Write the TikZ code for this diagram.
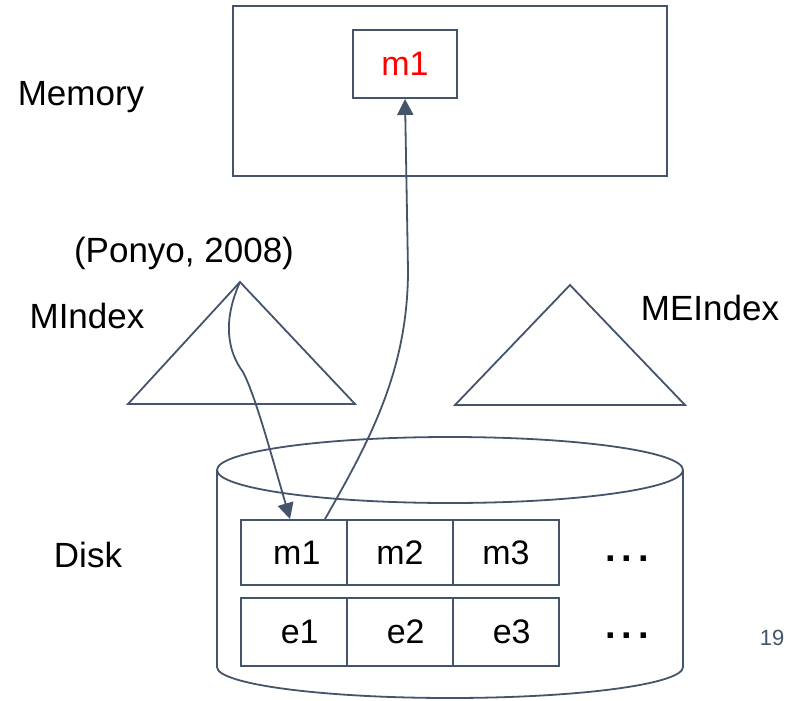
\documentclass[tikz,border=0pt]{standalone}
\usepackage{fontspec}
\setmainfont{Liberation Sans}
\usetikzlibrary{arrows.meta}
\definecolor{ln}{HTML}{44546A}
\begin{document}
\begin{tikzpicture}[x=1pt,y=-1pt,
  lbl/.style={anchor=base,font=\fontsize{35}{40}\selectfont},
  cell/.style={draw=ln,line width=1.9pt,minimum width=106pt,inner sep=0pt,font=\fontsize{34}{38}\selectfont},
  box/.style={draw=ln,line width=1.9pt,inner sep=0pt},
  shp/.style={draw=ln,line width=1.8pt},
  conn/.style={draw=ln,line width=1.8pt},
  arr/.style={conn,-{Triangle[length=16pt,width=16pt]}},
  dots/.style={anchor=base,font=\fontsize{38}{40}\selectfont\bfseries}]
\useasboundingbox (0,0) rectangle (790,701);
% Memory
\node[box,minimum width=434pt,minimum height=170pt] (mem) at (450,91) {};
\node[box,minimum width=104pt,minimum height=68pt,text=red,font=\fontsize{34}{38}\selectfont] (mm1) at (405,64) {m1};
\node[lbl] (memlbl) at (81,105) {Memory};
% indexes
\coordinate (apexA) at (240,282);
\coordinate (apexB) at (570,285);
\draw[shp] (apexA) -- (355,404) -- (128,404) -- cycle;
\draw[shp] (apexB) -- (685,405) -- (455,405) -- cycle;
\node[lbl] (ponyo) at (184,262) {(Ponyo, 2008)};
\node[lbl] (mindex) at (87,328) {MIndex};
\node[lbl] (meindex) at (710,320) {MEIndex};
% disk
\draw[shp] (450,470) ellipse [x radius=233, y radius=33];
\draw[shp] (217,470) -- (217,667) arc[start angle=180,end angle=0,x radius=233,y radius=31] -- (683,470);
\node[lbl] (disklbl) at (88,567) {Disk};
\node[cell,minimum height=65pt] (m1c) at (294,552.5) {\,m1};
\node[cell,minimum height=65pt] (m2c) at (400,552.5) {\raisebox{-3pt}{m2}};
\node[cell,minimum height=65pt] (m3c) at (506,552.5) {m3};
\node[cell,minimum height=68pt] (e1c) at (294,632) {\,\,e1};
\node[cell,minimum height=68pt] (e2c) at (400,632) {\,\,e2};
\node[cell,minimum height=68pt] (e3c) at (506,632) {\,\,e3};
\node[dots] (d1) at (627,561) {.\kern6pt.\kern6pt.};
\node[dots] (d2) at (627,638) {.\kern6pt.\kern6pt.};
\node[anchor=base,font=\fontsize{22}{26}\selectfont,text=ln] (pg) at (772,645) {19};
% connectors
\draw[arr] (apexA) .. controls (222,322) and (228,352) .. (243,372)
  .. controls (255,395) and (270,450) .. ([xshift=-4pt]m1c.north);
\draw[arr] ([xshift=31pt]m1c.north) .. controls (370,440) and (408,370) .. (408,270) -- (mm1.south);
\end{tikzpicture}
\end{document}
